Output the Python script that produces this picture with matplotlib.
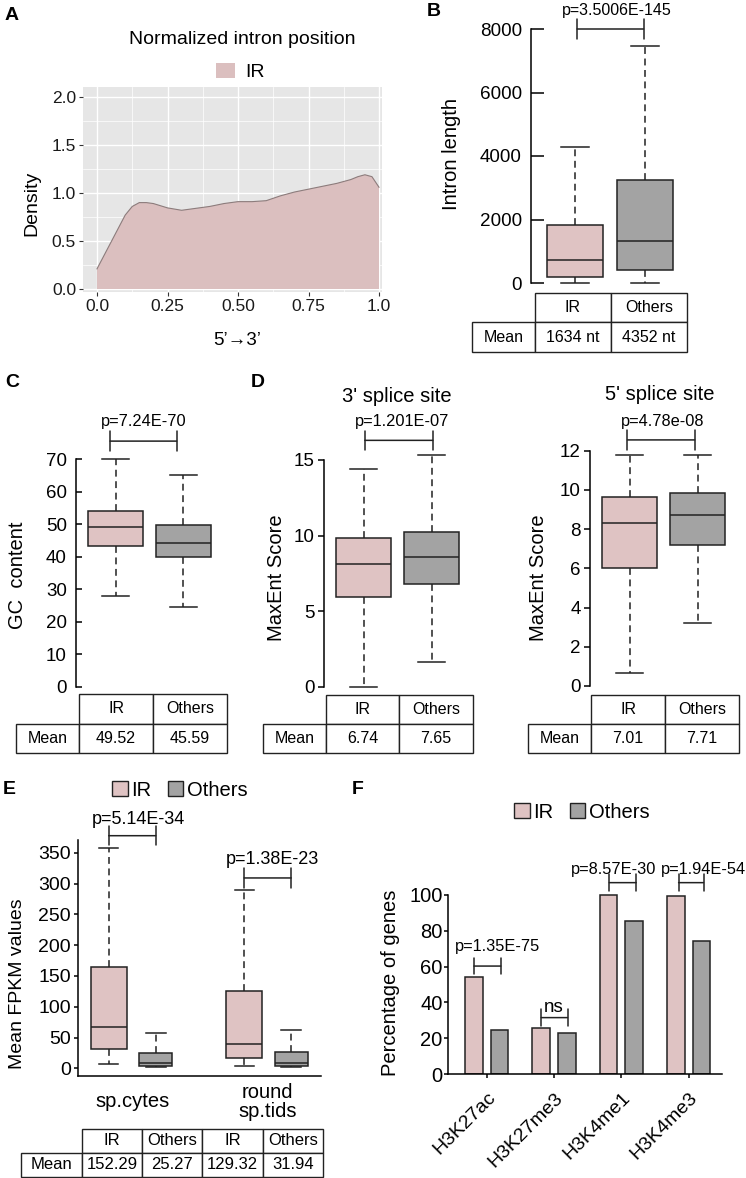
import matplotlib
matplotlib.use('Agg')
import matplotlib.pyplot as plt
from matplotlib.patches import Patch
import numpy as np

plt.rcParams['font.family'] = ['Liberation Sans', 'DejaVu Sans']

# ================= DATA =================
# Panel A: density of normalized intron position (IR)
a_pos = [0.0, 0.05, 0.1, 0.125, 0.15, 0.175, 0.2, 0.25, 0.3, 0.35, 0.4, 0.45, 0.5,
         0.55, 0.6, 0.65, 0.7, 0.75, 0.8, 0.85, 0.9, 0.925, 0.95, 0.975, 1.0]
a_density = [0.21, 0.49, 0.77, 0.86, 0.90, 0.90, 0.89, 0.845, 0.82, 0.84, 0.86, 0.89, 0.91,
             0.91, 0.92, 0.97, 1.01, 1.04, 1.07, 1.10, 1.14, 1.17, 1.19, 1.17, 1.06]
a_xticks = [0.0, 0.25, 0.5, 0.75, 1.0]
a_xticklabels = ['0.0', '0.25', '0.50', '0.75', '1.0']
a_yticks = [0.0, 0.5, 1.0, 1.5, 2.0]

groups = ['IR', 'Others']

# Panel B: intron length
b_lo = [10, 0]
b_q1 = [200, 420]
b_med = [715, 1314]
b_q3 = [1840, 3238]
b_hi = [4290, 7474]
b_mean = ['1634 nt', '4352 nt']
b_p = 'p=3.5006E-145'

# Panel C: GC content
c_lo = [28.0, 24.6]
c_q1 = [43.4, 39.9]
c_med = [49.2, 44.3]
c_q3 = [54.1, 49.8]
c_hi = [70.0, 65.2]
c_mean = ['49.52', '45.59']
c_p = 'p=7.24E-70'

# Panel D: MaxEnt scores, 3' splice site
d3_lo = [0.0, 1.61]
d3_q1 = [5.91, 6.77]
d3_med = [8.12, 8.6]
d3_q3 = [9.82, 10.21]
d3_hi = [14.4, 15.35]
d3_mean = ['6.74', '7.65']
d3_p = 'p=1.201E-07'

# Panel D: MaxEnt scores, 5' splice site
d5_lo = [0.68, 3.21]
d5_q1 = [6.03, 7.2]
d5_med = [8.29, 8.7]
d5_q3 = [9.64, 9.82]
d5_hi = [11.8, 11.8]
d5_mean = ['7.01', '7.71']
d5_p = 'p=4.78e-08'

# Panel E: Mean FPKM values (per stage: IR, Others)
e_stages = ['sp.cytes', 'round\nsp.tids']
e_ir_lo = [7, 3.8]
e_ir_q1 = [31.9, 16.8]
e_ir_med = [67.6, 40]
e_ir_q3 = [165, 126]
e_ir_hi = [358, 289]
e_ot_lo = [2, 2]
e_ot_q1 = [4.3, 4.3]
e_ot_med = [8.1, 9.2]
e_ot_q3 = [24.9, 26.5]
e_ot_hi = [57.4, 61.7]
e_mean = ['152.29', '25.27', '129.32', '31.94']
e_p = ['p=5.14E-34', 'p=1.38E-23']

# Panel F: percentage of genes with histone marks
f_marks = ['H3K27ac', 'H3K27me3', 'H3K4me1', 'H3K4me3']
f_ir = [54.4, 25.5, 100.0, 99.4]
f_others = [24.6, 22.7, 85.5, 74.5]
f_p = ['p=1.35E-75', 'ns', 'p=8.57E-30', 'p=1.94E-54']

# ================= STYLE / HELPERS =================
W, H = 746, 1178
PINK = '#dfc3c3'
GRAY = '#a3a3a3'
FILL_A = '#dbbfbf'
LW = 1.1

fig = plt.figure(figsize=(W / 100, H / 100), dpi=100)


def P(x, y):
    return (x / W, 1 - y / H)


def cal_ax(box, xcal, ycal):
    l, t, r, b = box
    ax = fig.add_axes([l / W, 1 - b / H, (r - l) / W, (b - t) / H])
    (p1, v1), (p2, v2) = xcal
    s = (v2 - v1) / (p2 - p1)
    ax.set_xlim(v1 + (l - p1) * s, v1 + (r - p1) * s)
    (q1, w1), (q2, w2) = ycal
    s = (w2 - w1) / (q2 - q1)
    ax.set_ylim(w1 + (b - q1) * s, w1 + (t - q1) * s)
    return ax


def ftext(x, y, s, **kw):
    kw.setdefault('ha', 'center')
    kw.setdefault('va', 'center')
    fig.text(*P(x, y), s, **kw)


def ylab(ax, s, x, y, fs):
    ax.set_ylabel(s, fontsize=fs, va='center', ha='center')
    ax.yaxis.set_label_coords(*P(x, y), transform=fig.transFigure)


def table(box, row1, row2, colpx, fs=11.5):
    l, t, r, b = box
    tax = fig.add_axes([l / W, 1 - b / H, (r - l) / W, (b - t) / H])
    tax.axis('off')
    tot = float(sum(colpx))
    tab = tax.table(cellText=[row1, row2], colWidths=[c / tot for c in colpx],
                    bbox=[0, 0, 1, 1], cellLoc='center')
    tab.auto_set_font_size(False)
    tab.set_fontsize(fs)
    for (i, j), cell in tab.get_celld().items():
        cell.set_linewidth(1.0)
        cell.set_edgecolor('#222222')
    tab[0, 0].set_visible(False)
    return tab


def bracket(ax, x1, x2, y, w=0.7):
    ax.annotate('', xy=(x1, y), xytext=(x2, y),
                arrowprops=dict(arrowstyle='|-|,widthA=%g,widthB=%g' % (w, w), lw=LW,
                                color='#222222', shrinkA=0, shrinkB=0),
                annotation_clip=False)


def make_stats(lo, q1, med, q3, hi):
    return [dict(whislo=lo[i], q1=q1[i], med=med[i], q3=q3[i], whishi=hi[i], fliers=[])
            for i in range(len(med))]


def boxes(ax, stats, positions, widths, capw, colors):
    bp = ax.bxp(stats, positions=positions, widths=widths, capwidths=capw,
                patch_artist=True, showfliers=False,
                boxprops=dict(edgecolor='#222222', linewidth=LW),
                whiskerprops=dict(color='#222222', linewidth=LW, linestyle=(0, (4.5, 3))),
                capprops=dict(color='#222222', linewidth=LW),
                medianprops=dict(color='#222222', linewidth=LW))
    for patch, c in zip(bp['boxes'], colors):
        patch.set_facecolor(c)
    return bp


def panel_label(x, y, s):
    ftext(x, y, s, fontsize=14, fontweight='bold')


# ================= PANEL A =================
axA = cal_ax((83, 87, 382, 292), ((97, 0.0), (379, 1.0)), ((289, 0.0), (97, 2.0)))
axA.set_facecolor('#e6e6e6')
axA.set_xticks(a_xticks)
axA.set_xticklabels(a_xticklabels)
axA.set_yticks(a_yticks)
axA.set_yticklabels(['%.1f' % v for v in a_yticks])
axA.set_xticks([0.125, 0.375, 0.625, 0.875], minor=True)
axA.set_yticks([0.25, 0.75, 1.25, 1.75], minor=True)
axA.grid(True, which='major', color='white', lw=1.0)
axA.grid(True, which='minor', color='white', lw=0.5)
axA.set_axisbelow(True)
for sp in axA.spines.values():
    sp.set_visible(False)
axA.tick_params(which='major', length=3, width=0.8, color='#333333', labelsize=12.5,
                labelcolor='#1a1a1a', pad=2)
axA.tick_params(which='minor', length=0)
axA.fill_between(a_pos, a_density, 0, color=FILL_A, edgecolor='none', zorder=2)
axA.plot(a_pos, a_density, color='#8c7c7c', lw=0.8, zorder=3)
ylab(axA, 'Density', 32, 203, 14)
ftext(242, 39, 'Normalized intron position', fontsize=14)
ftext(237, 340, '5\u2019\u21923\u2019', fontsize=13.5)
fig.legend(handles=[Patch(facecolor=FILL_A, edgecolor='none', label='IR')],
           loc='center', bbox_to_anchor=P(240, 72), frameon=False, fontsize=14,
           handlelength=1.0, handleheight=0.8, handletextpad=0.5)
panel_label(12, 15, 'A')

# ================= PANEL B =================
axB = cal_ax((531, 20, 700, 290), ((575, 1), (645, 2)), ((283, 0), (29, 8000)))
boxes(axB, make_stats(b_lo, b_q1, b_med, b_q3, b_hi), [1, 2], 0.8, 0.39, [PINK, GRAY])
for s in ['top', 'right', 'bottom']:
    axB.spines[s].set_visible(False)
axB.spines['left'].set_bounds(0, 8000)
axB.spines['left'].set_linewidth(LW)
axB.set_yticks([0, 2000, 4000, 6000, 8000])
axB.set_xticks([])
axB.tick_params(axis='y', direction='in', length=9, width=LW, labelsize=13.6, pad=6.5)
ylab(axB, 'Intron length', 452, 154, 14.5)
bracket(axB, 1.03, 1.98, 8000)
ftext(617, 11, b_p, fontsize=11.5)
table((472, 293, 687, 352), [''] + groups, ['Mean'] + b_mean, [63, 76, 76])
panel_label(434, 11, 'B')

# ================= PANEL C =================
axC = cal_ax((76, 440, 240, 690), ((115.5, 1), (183.5, 2)), ((686.7, 0), (459, 70)))
boxes(axC, make_stats(c_lo, c_q1, c_med, c_q3, c_hi), [1, 2], 0.81, 0.39, [PINK, GRAY])
for s in ['top', 'right', 'bottom']:
    axC.spines[s].set_visible(False)
axC.spines['left'].set_bounds(0, 70)
axC.spines['left'].set_linewidth(LW)
axC.set_yticks(range(0, 71, 10))
axC.set_xticks([])
axC.tick_params(axis='y', direction='in', length=4.5, width=LW, labelsize=13.5, pad=6.5)
ylab(axC, 'GC  content', 18, 575, 14.5)
bracket(axC, 0.92, 1.9, 75.5)
ftext(144, 422, c_p, fontsize=11.8)
table((16, 694, 227, 753), [''] + groups, ['Mean'] + c_mean, [63, 74, 74])
panel_label(12, 382, 'C')

# ================= PANEL D (3') =================
axD1 = cal_ax((324, 440, 480, 690), ((363.5, 1), (431.5, 2)), ((686.7, 0), (460, 15)))
boxes(axD1, make_stats(d3_lo, d3_q1, d3_med, d3_q3, d3_hi), [1, 2], 0.81, 0.39, [PINK, GRAY])
for s in ['top', 'right', 'bottom']:
    axD1.spines[s].set_visible(False)
axD1.spines['left'].set_bounds(0, 15)
axD1.spines['left'].set_linewidth(LW)
axD1.set_yticks([0, 5, 10, 15])
axD1.set_xticks([])
axD1.tick_params(axis='y', direction='out', length=4, width=LW, labelsize=13.5, pad=2.5)
ylab(axD1, 'MaxEnt Score', 276, 578, 14.5)
bracket(axD1, 1.02, 2.02, 16.3)
ftext(402, 422, d3_p, fontsize=11.8)
ftext(397, 396, "3' splice site", fontsize=14.5)
table((263, 695, 473, 753), [''] + groups, ['Mean'] + d3_mean, [63, 73, 74])
panel_label(258, 382, 'D')

# ================= PANEL D (5') =================
axD2 = cal_ax((590, 440, 745, 690), ((629.5, 1), (697.5, 2)), ((686, 0), (450.7, 12)))
boxes(axD2, make_stats(d5_lo, d5_q1, d5_med, d5_q3, d5_hi), [1, 2], 0.81, 0.39, [PINK, GRAY])
for s in ['top', 'right', 'bottom']:
    axD2.spines[s].set_visible(False)
axD2.spines['left'].set_bounds(0, 12)
axD2.spines['left'].set_linewidth(LW)
axD2.set_yticks(range(0, 13, 2))
axD2.set_xticks([])
axD2.tick_params(axis='y', direction='out', length=4, width=LW, labelsize=13.5, pad=2.5)
ylab(axD2, 'MaxEnt Score', 539, 578, 14.5)
bracket(axD2, 0.97, 1.96, 12.55)
ftext(663, 422, d5_p, fontsize=11.8)
ftext(660, 395, "5' splice site", fontsize=14.5)
table((528, 695, 739, 753), [''] + groups, ['Mean'] + d5_mean, [63, 74, 74])

# ================= PANEL E =================
axE = cal_ax((78, 840, 321, 1076), ((132.25, 1), (267.65, 2)), ((1068.3, 0), (852.7, 350)))
g = np.arange(1, len(e_stages) + 1)
off = 0.174
boxes(axE, make_stats(e_ir_lo, e_ir_q1, e_ir_med, e_ir_q3, e_ir_hi), g - off, 0.265, 0.14,
      [PINK] * len(g))
boxes(axE, make_stats(e_ot_lo, e_ot_q1, e_ot_med, e_ot_q3, e_ot_hi), g + off, 0.245, 0.15,
      [GRAY] * len(g))
for s in ['top', 'right']:
    axE.spines[s].set_visible(False)
for s in ['left', 'bottom']:
    axE.spines[s].set_linewidth(LW)
axE.set_yticks(range(0, 351, 50))
axE.set_xticks(g)
axE.set_xticklabels(e_stages)
axE.tick_params(axis='y', direction='out', length=3, width=LW, labelsize=14, pad=2)
axE.tick_params(axis='x', length=0, labelsize=14.5, pad=18.5)
for lab in axE.get_xticklabels():
    lab.set_va('center')
    lab.set_linespacing(1.0)
ylab(axE, 'Mean FPKM values', 17.5, 984, 14)
bracket(axE, g[0] - off, g[0] + off, 377.6)
bracket(axE, g[1] - off, g[1] + off, 309)
ftext(138, 819, e_p[0], fontsize=13)
ftext(272, 859, e_p[1], fontsize=13)
leg_handles = [Patch(facecolor=PINK, edgecolor='#222222', label='IR'),
               Patch(facecolor=GRAY, edgecolor='#222222', label='Others')]
fig.legend(handles=leg_handles, loc='center', bbox_to_anchor=P(180, 790), frameon=False,
           ncol=2, fontsize=14.5, handlelength=0.75, handleheight=0.75,
           handletextpad=0.2, columnspacing=0.8)
table((21, 1129, 323.3, 1176.7), [''] + groups * 2, ['Mean'] + e_mean,
      [60.7, 60.6, 60, 60.4, 60.6], fs=12)
panel_label(9, 789, 'E')

# ================= PANEL F =================
axF = cal_ax((448, 860, 721.7, 1074), ((486.7, 0), (688.7, 3)), ((1074, 0), (895, 100)))
x = np.arange(len(f_marks))
bw = 0.26
axF.bar(x - 0.19, f_ir, width=bw, color=PINK, edgecolor='#222222', linewidth=LW)
axF.bar(x + 0.19, f_others, width=bw, color=GRAY, edgecolor='#222222', linewidth=LW)
for s in ['top', 'right']:
    axF.spines[s].set_visible(False)
axF.spines['left'].set_bounds(0, 100)
for s in ['left', 'bottom']:
    axF.spines[s].set_linewidth(LW)
axF.set_yticks(range(0, 101, 20))
axF.set_xticks(x)
axF.set_xticklabels(f_marks, rotation=45, ha='right', va='top', rotation_mode='anchor')
axF.tick_params(axis='y', direction='out', length=3, width=LW, labelsize=14.5, pad=1)
axF.tick_params(axis='x', direction='out', length=3, width=LW, labelsize=14, pad=8)
ylab(axF, 'Percentage of genes', 390, 983, 14.5)
bracket(axF, x[0] - 0.19, x[0] + 0.21, 60.3, w=0.6)
bracket(axF, x[1] - 0.19, x[1] + 0.2, 31.5, w=0.6)
bracket(axF, x[2] - 0.18, x[2] + 0.22, 106.9, w=0.6)
bracket(axF, x[3] - 0.15, x[3] + 0.22, 106.9, w=0.6)
ftext(497.7, 946, f_p[0], fontsize=11.8)
ftext(554, 1007, f_p[1], fontsize=13.5)
ftext(613.3, 869.5, f_p[2], fontsize=11.8)
ftext(703.3, 869.5, f_p[3], fontsize=11.8)
fig.legend(handles=leg_handles, loc='center', bbox_to_anchor=P(582, 812), frameon=False,
           ncol=2, fontsize=14.5, handlelength=0.75, handleheight=0.75,
           handletextpad=0.2, columnspacing=0.8)
panel_label(358, 789, 'F')

fig.savefig('out.png', dpi=100)
